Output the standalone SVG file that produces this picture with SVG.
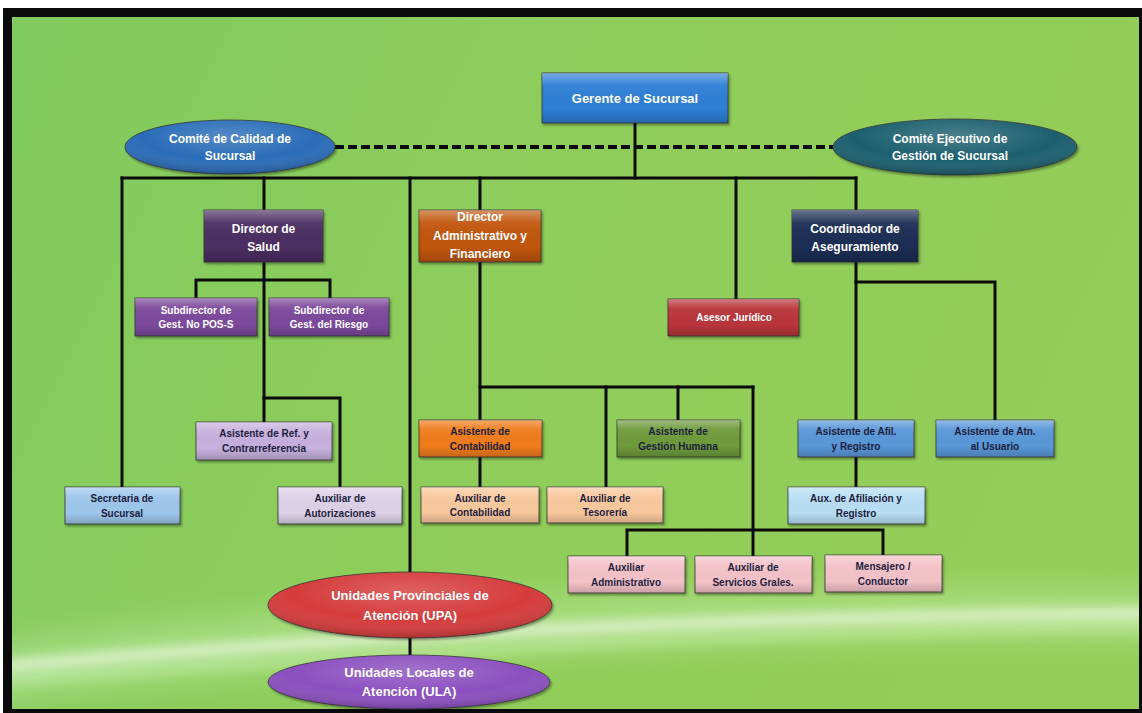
<svg xmlns="http://www.w3.org/2000/svg" width="1142" height="713" viewBox="0 0 1142 713">
<defs>
<linearGradient id="bg" x1="0" y1="0" x2="1" y2="0.3">
<stop offset="0" stop-color="#7fcb5f"/>
<stop offset="0.5" stop-color="#8fcd5b"/>
<stop offset="1" stop-color="#94cd58"/>
</linearGradient>
<linearGradient id="sh" x1="0" y1="0" x2="0" y2="1">
<stop offset="0" stop-color="#fff" stop-opacity="0.35"/>
<stop offset="0.25" stop-color="#fff" stop-opacity="0.05"/>
<stop offset="0.7" stop-color="#000" stop-opacity="0"/>
<stop offset="1" stop-color="#000" stop-opacity="0.18"/>
</linearGradient>
<radialGradient id="esh" cx="0.5" cy="0.3" r="0.7">
<stop offset="0" stop-color="#fff" stop-opacity="0.2"/>
<stop offset="0.6" stop-color="#fff" stop-opacity="0"/>
<stop offset="1" stop-color="#000" stop-opacity="0.2"/>
</radialGradient>
<clipPath id="inner"><rect x="12" y="17" width="1127" height="692"/></clipPath>
<filter id="blur" x="-10%" y="-100%" width="120%" height="300%"><feGaussianBlur stdDeviation="6"/></filter>
<filter id="blur2" x="-10%" y="-100%" width="120%" height="300%"><feGaussianBlur stdDeviation="16"/></filter>
<filter id="ds" x="-10%" y="-10%" width="125%" height="135%"><feDropShadow dx="1.5" dy="2" stdDeviation="1.2" flood-color="#000" flood-opacity="0.35"/></filter>
</defs>
<style>
.ln{stroke:#0b0b0b;stroke-width:3;fill:none;stroke-linecap:square}
.dash{stroke:#0b0b0b;stroke-width:4;fill:none;stroke-dasharray:9 4}
.bx{stroke:#333;stroke-width:0.8;filter:url(#ds)}
.ov{fill:url(#sh);stroke:none}
.eo{fill:url(#esh);stroke:none}
.t{font-family:"Liberation Sans Narrow","Liberation Sans",Arial,sans-serif;font-weight:bold;text-anchor:middle}
.w{fill:#ffffff}
.d{fill:#1d1d3d}
.s10{font-size:10px}
.s12{font-size:12px}
.s13{font-size:13px}
</style>
<rect x="0" y="0" width="1142" height="713" fill="#ffffff"/>
<rect x="3" y="8" width="1139" height="705" fill="#0a0a0a"/>
<rect x="12" y="17" width="1127" height="692" fill="url(#bg)"/>
<g id="swoosh" clip-path="url(#inner)">
<g>
<path d="M-40,650 C300,600 700,585 1190,590 L1190,640 C700,630 300,660 -40,705 Z" fill="#c8f0b0" opacity="0.45" filter="url(#blur2)"/>
<path d="M-40,670 C300,640 700,615 1190,613" stroke="#ffffff" stroke-width="10" fill="none" opacity="0.7" filter="url(#blur)"/>
<path d="M-40,683 C320,660 700,630 1190,627" stroke="#eaffdf" stroke-width="6" fill="none" opacity="0.5" filter="url(#blur)"/>
</g>
</g>
<g id="connectors">
<line class="dash" x1="335" y1="147" x2="833" y2="147"/>
<line class="ln" x1="635" y1="123" x2="635" y2="178"/>
<line class="ln" x1="122" y1="178" x2="856" y2="178"/>
<line class="ln" x1="122" y1="178" x2="122" y2="487"/>
<line class="ln" x1="264" y1="178" x2="264" y2="210"/>
<line class="ln" x1="410" y1="178" x2="410" y2="572"/>
<line class="ln" x1="480" y1="178" x2="480" y2="210"/>
<line class="ln" x1="736" y1="178" x2="736" y2="299"/>
<line class="ln" x1="856" y1="178" x2="856" y2="210"/>
<line class="ln" x1="264" y1="262" x2="264" y2="422"/>
<polyline class="ln" points="196,298 196,280 330,280 330,298"/>
<polyline class="ln" points="264,398 340,398 340,487"/>
<line class="ln" x1="480" y1="262" x2="480" y2="420"/>
<line class="ln" x1="480" y1="387" x2="753" y2="387"/>
<line class="ln" x1="606" y1="387" x2="606" y2="487"/>
<line class="ln" x1="678" y1="387" x2="678" y2="420"/>
<line class="ln" x1="753" y1="387" x2="753" y2="556"/>
<line class="ln" x1="480" y1="457" x2="480" y2="487"/>
<polyline class="ln" points="627,556 627,530 883,530 883,555"/>
<line class="ln" x1="856" y1="262" x2="856" y2="420"/>
<polyline class="ln" points="856,282 995,282 995,420"/>
<line class="ln" x1="856" y1="457" x2="856" y2="487"/>
<line class="ln" x1="410" y1="638" x2="410" y2="655"/>
</g>
<g id="gerente">
<rect class="bx" x="542" y="73" width="186" height="50" fill="#2e7fd6"/>
<rect class="ov" x="542" y="73" width="186" height="50"/>
<text class="t w s13" x="635" y="103">Gerente de Sucursal</text>
</g>
<g id="comite-calidad">
<ellipse class="bx" cx="230" cy="147" rx="105" ry="27" fill="#2c6cb8"/>
<ellipse class="eo" cx="230" cy="147" rx="105" ry="27"/>
<text class="t w s12" x="230" y="143">Comité de Calidad de</text>
<text class="t w s12" x="230" y="160">Sucursal</text>
</g>
<g id="comite-ejecutivo">
<ellipse class="bx" cx="955" cy="147" rx="122" ry="28" fill="#1d5f6e"/>
<ellipse class="eo" cx="955" cy="147" rx="122" ry="28"/>
<text class="t w s12" x="950" y="143">Comité Ejecutivo de</text>
<text class="t w s12" x="950" y="160">Gestión de Sucursal</text>
</g>
<g id="director-salud">
<rect class="bx" x="204" y="210" width="119" height="52" fill="#4b2d62"/>
<rect class="ov" x="204" y="210" width="119" height="52"/>
<text class="t w s12" x="263.5" y="233">Director de</text>
<text class="t w s12" x="263.5" y="251">Salud</text>
</g>
<g id="director-admin">
<rect class="bx" x="419" y="210" width="122" height="52" fill="#c2560f"/>
<rect class="ov" x="419" y="210" width="122" height="52"/>
<text class="t w s12" x="480" y="221">Director</text>
<text class="t w s12" x="480" y="240">Administrativo y</text>
<text class="t w s12" x="480" y="258">Financiero</text>
</g>
<g id="coordinador">
<rect class="bx" x="792" y="210" width="126" height="52" fill="#1b2d55"/>
<rect class="ov" x="792" y="210" width="126" height="52"/>
<text class="t w s12" x="855" y="233">Coordinador de</text>
<text class="t w s12" x="855" y="251">Aseguramiento</text>
</g>
<g id="subdirector-pos">
<rect class="bx" x="135" y="298" width="122" height="38" fill="#7b4a9c"/>
<rect class="ov" x="135" y="298" width="122" height="38"/>
<text class="t w s10" x="196" y="314">Subdirector de</text>
<text class="t w s10" x="196" y="328">Gest. No POS-S</text>
</g>
<g id="subdirector-riesgo">
<rect class="bx" x="269" y="298" width="120" height="38" fill="#7b4a9c"/>
<rect class="ov" x="269" y="298" width="120" height="38"/>
<text class="t w s10" x="329" y="314">Subdirector de</text>
<text class="t w s10" x="329" y="328">Gest. del Riesgo</text>
</g>
<g id="asesor-juridico">
<rect class="bx" x="668" y="299" width="131" height="37" fill="#b9343b"/>
<rect class="ov" x="668" y="299" width="131" height="37"/>
<text class="t w s10" x="734" y="321">Asesor  Jurídico</text>
</g>
<g id="asistente-ref">
<rect class="bx" x="196" y="422" width="136" height="38" fill="#c6b0dc"/>
<rect class="ov" x="196" y="422" width="136" height="38"/>
<text class="t d s10" x="264" y="437">Asistente de Ref.  y</text>
<text class="t d s10" x="264" y="452">Contrarreferencia</text>
</g>
<g id="secretaria">
<rect class="bx" x="65" y="487" width="115" height="37" fill="#9ec6ec"/>
<rect class="ov" x="65" y="487" width="115" height="37"/>
<text class="t d s10" x="122" y="502">Secretaria de</text>
<text class="t d s10" x="122" y="517">Sucursal</text>
</g>
<g id="auxiliar-autorizaciones">
<rect class="bx" x="278" y="487" width="124" height="37" fill="#ddd1e8"/>
<rect class="ov" x="278" y="487" width="124" height="37"/>
<text class="t d s10" x="340" y="502">Auxiliar de</text>
<text class="t d s10" x="340" y="517">Autorizaciones</text>
</g>
<g id="asistente-contabilidad">
<rect class="bx" x="419" y="420" width="123" height="37" fill="#f07b1c"/>
<rect class="ov" x="419" y="420" width="123" height="37"/>
<text class="t d s10" x="480" y="435">Asistente de</text>
<text class="t d s10" x="480" y="450">Contabilidad</text>
</g>
<g id="asistente-gestion-humana">
<rect class="bx" x="617" y="420" width="123" height="37" fill="#6e9b3b"/>
<rect class="ov" x="617" y="420" width="123" height="37"/>
<text class="t d s10" x="678" y="435">Asistente de</text>
<text class="t d s10" x="678" y="450">Gestión Humana</text>
</g>
<g id="auxiliar-contabilidad">
<rect class="bx" x="421" y="487" width="118" height="36" fill="#f9c89d"/>
<rect class="ov" x="421" y="487" width="118" height="36"/>
<text class="t d s10" x="480" y="502">Auxiliar de</text>
<text class="t d s10" x="480" y="516">Contabilidad</text>
</g>
<g id="auxiliar-tesoreria">
<rect class="bx" x="547" y="487" width="116" height="36" fill="#f9c89d"/>
<rect class="ov" x="547" y="487" width="116" height="36"/>
<text class="t d s10" x="605" y="502">Auxiliar de</text>
<text class="t d s10" x="605" y="516">Tesorería</text>
</g>
<g id="asistente-afil">
<rect class="bx" x="798" y="420" width="116" height="37" fill="#5a98d8"/>
<rect class="ov" x="798" y="420" width="116" height="37"/>
<text class="t d s10" x="856" y="435">Asistente de Afil.</text>
<text class="t d s10" x="856" y="450">y Registro</text>
</g>
<g id="asistente-atn">
<rect class="bx" x="936" y="420" width="118" height="37" fill="#5a98d8"/>
<rect class="ov" x="936" y="420" width="118" height="37"/>
<text class="t d s10" x="995" y="435">Asistente de Atn.</text>
<text class="t d s10" x="995" y="450">al Usuario</text>
</g>
<g id="aux-afiliacion">
<rect class="bx" x="788" y="487" width="137" height="37" fill="#b8def4"/>
<rect class="ov" x="788" y="487" width="137" height="37"/>
<text class="t d s10" x="856" y="502">Aux. de Afiliación y</text>
<text class="t d s10" x="856" y="517">Registro</text>
</g>
<g id="auxiliar-administrativo">
<rect class="bx" x="568" y="556" width="117" height="37" fill="#f4c2c9"/>
<rect class="ov" x="568" y="556" width="117" height="37"/>
<text class="t d s10" x="626" y="571">Auxiliar</text>
<text class="t d s10" x="626" y="586">Administrativo</text>
</g>
<g id="auxiliar-servicios">
<rect class="bx" x="695" y="556" width="117" height="37" fill="#f4c2c9"/>
<rect class="ov" x="695" y="556" width="117" height="37"/>
<text class="t d s10" x="753" y="571">Auxiliar de</text>
<text class="t d s10" x="753" y="586">Servicios Grales.</text>
</g>
<g id="mensajero">
<rect class="bx" x="825" y="555" width="117" height="37" fill="#f4c2c9"/>
<rect class="ov" x="825" y="555" width="117" height="37"/>
<text class="t d s10" x="883" y="570">Mensajero /</text>
<text class="t d s10" x="883" y="585">Conductor</text>
</g>
<g id="upa">
<ellipse class="bx" cx="410" cy="605" rx="142" ry="33" fill="#d63a3a"/>
<ellipse class="eo" cx="410" cy="605" rx="142" ry="33"/>
<text class="t w s13" x="410" y="600">Unidades Provinciales de</text>
<text class="t w s13" x="410" y="620">Atención (UPA)</text>
</g>
<g id="ula">
<ellipse class="bx" cx="409" cy="682" rx="141" ry="27" fill="#8b4fc0"/>
<ellipse class="eo" cx="409" cy="682" rx="141" ry="27"/>
<text class="t w s13" x="409" y="677">Unidades Locales de</text>
<text class="t w s13" x="409" y="696">Atención (ULA)</text>
</g>
</svg>
